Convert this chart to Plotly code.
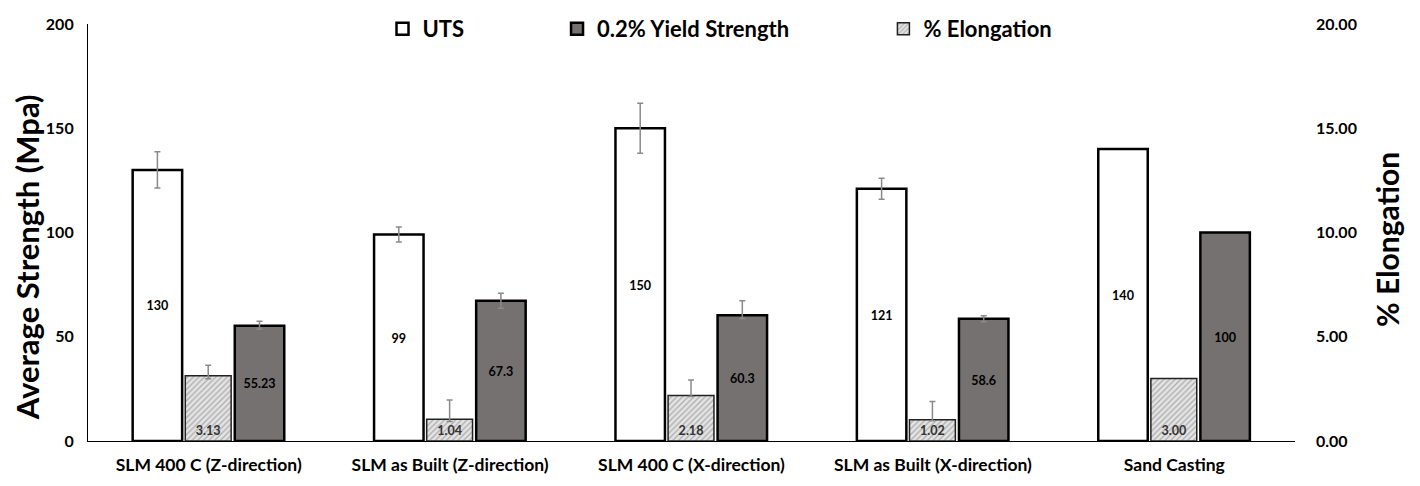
import plotly.graph_objects as go

categories = ["SLM 400 C (Z-direction)", "SLM as Built (Z-direction)", "SLM 400 C (X-direction)",
              "SLM as Built (X-direction)", "Sand Casting"]
uts = [130, 99, 150, 121, 140]
uts_err = [8.7, 3.6, 12, 5, "NaN"]
yield_str = [55.23, 67.3, 60.3, 58.6, 100]
yield_err_plus = [2.2, 3.6, 7, 1.5, "NaN"]
yield_err_minus = [1.6, 3.6, 1.5, 1.4, "NaN"]
elong = [3.13, 1.04, 2.18, 1.02, 3.00]
elong_err_plus = [0.5, 0.93, 0.75, 0.87, "NaN"]
elong_err_minus = [0.15, 0.1, 0.05, 0.05, "NaN"]

uts_labels = ["130", "99", "150", "121", "140"]
yield_labels = ["55.23", "67.3", "60.3", "58.6", "100"]
elong_labels = ["3.13", "1.04", "2.18", "1.02", "3.00"]

FONT = "Lato"
ERR = "#8a8a8a"

fig = go.Figure()
fig.add_trace(go.Bar(
    x=categories, y=uts, name="UTS", yaxis="y", legend="legend",
    width=0.205, offset=-0.315,
    marker=dict(color="white", line=dict(color="black", width=2.5)),
    text=uts_labels, textposition="inside", insidetextanchor="middle",
    textfont=dict(family=FONT, size=14, color="black", weight="bold"),
    error_y=dict(type="data", array=uts_err, color=ERR, thickness=1.5, width=3),
))
fig.add_trace(go.Bar(
    x=categories, y=yield_str, name="0.2% Yield Strength", yaxis="y", legend="legend2",
    width=0.205, offset=0.108,
    marker=dict(color="#767171", line=dict(color="black", width=2.5)),
    text=yield_labels, textposition="inside", insidetextanchor="middle",
    textfont=dict(family=FONT, size=14, color="black", weight="bold"),
    error_y=dict(type="data", symmetric=False, array=yield_err_plus, arrayminus=yield_err_minus,
                 color=ERR, thickness=1.5, width=3),
))
fig.add_trace(go.Bar(
    x=categories, y=elong, name="% Elongation", yaxis="y2", legend="legend3",
    width=0.19, offset=-0.097,
    marker=dict(color="#e4e4e4", line=dict(color="#222222", width=1.5),
                pattern=dict(shape="/", fgcolor="#7a7a7a", bgcolor="#e4e4e4", size=4, solidity=0.35)),
    text=elong_labels, textposition="inside", insidetextanchor="start",
    textfont=dict(family=FONT, size=14, color="#333333", weight="bold"),
    error_y=dict(type="data", symmetric=False, array=elong_err_plus, arrayminus=elong_err_minus,
                 color=ERR, thickness=1.5, width=3),
))

legend_common = dict(orientation="h", xanchor="left", y=1.0384, yanchor="top",
                     font=dict(family=FONT, size=22, weight="bold"),
                     bgcolor="rgba(0,0,0,0)", itemwidth=30)

fig.update_layout(
    width=1412, height=478,
    margin=dict(l=80, r=125, t=16, b=45, autoexpand=False),
    paper_bgcolor="white", plot_bgcolor="white",
    font=dict(family=FONT, color="black"),
    barmode="overlay",
    uniformtext=dict(minsize=12, mode="show"),
    showlegend=True,
    legend=dict(x=0.244, **legend_common),
    legend2=dict(x=0.3886, **legend_common),
    legend3=dict(x=0.659, **legend_common),
    xaxis=dict(showline=True, linecolor="black", linewidth=1.2, ticks="",
               tickfont=dict(family=FONT, size=17.5, weight="bold"), ticklabelstandoff=8,
               showgrid=False, range=[-0.5, 4.5]),
    yaxis=dict(range=[0, 200], dtick=50, showline=True, linecolor="black", linewidth=1.2,
               showgrid=False, ticks="", zeroline=False,
               tickfont=dict(family=FONT, size=16, weight="bold"), ticklabelstandoff=10),
    yaxis2=dict(range=[0, 20], dtick=5, tickformat=".2f", overlaying="y", side="right",
                showline=False, showgrid=False, ticks="", zeroline=False,
                tickfont=dict(family=FONT, size=16, weight="bold"), ticklabelstandoff=20),
    annotations=[
        dict(text="Average Strength (Mpa)", textangle=-90, xref="paper", yref="paper",
             x=-0.0505, y=0.441, xanchor="center", yanchor="middle", showarrow=False,
             font=dict(family=FONT, size=31, weight="bold", color="black")),
        dict(text="% Elongation", textangle=-90, xref="paper", yref="paper",
             x=1.076, y=0.484, xanchor="center", yanchor="middle", showarrow=False,
             font=dict(family=FONT, size=30, weight="bold", color="black")),
    ],
)

fig.write_html("out.html")
